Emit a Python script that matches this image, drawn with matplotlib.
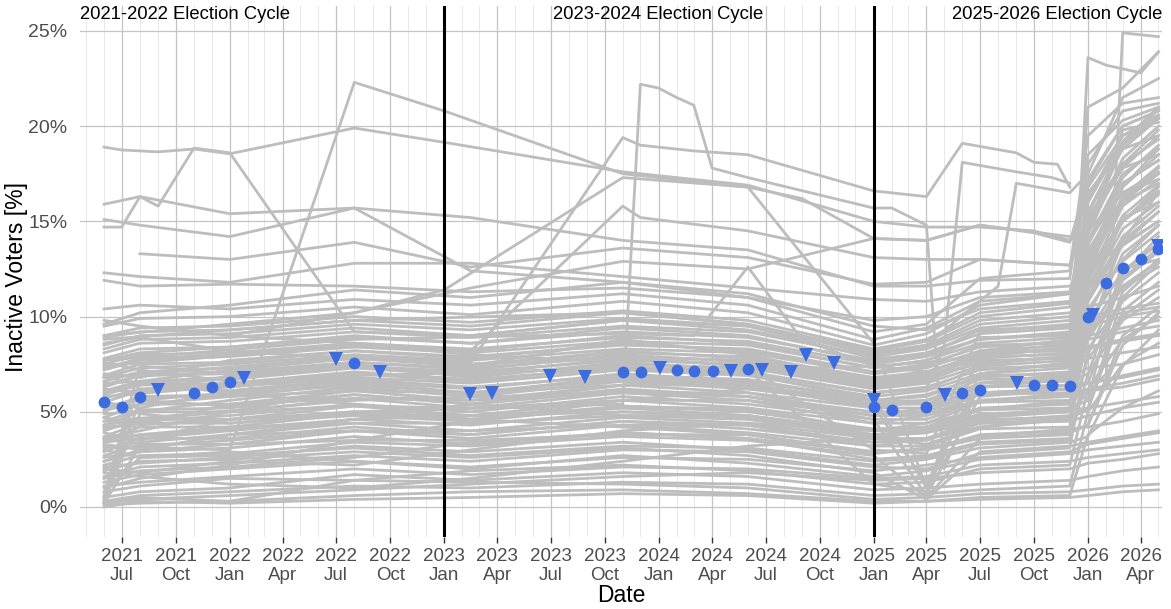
import numpy as np
import pandas as pd
import matplotlib
matplotlib.use('Agg')
import matplotlib.pyplot as plt
import matplotlib.dates as mdates

plt.rcParams['font.family'] = ['Liberation Sans', 'DejaVu Sans']
nan = np.nan

# statewide points (blue), shape o = circle, v = triangle
avg_dates = ['2021-06-01', '2021-07-01', '2021-08-01', '2021-09-01', '2021-11-01', '2021-12-01',
             '2022-01-01', '2022-01-26', '2022-06-30', '2022-08-01', '2022-09-13',
             '2023-02-14', '2023-03-24', '2023-06-30', '2023-08-28', '2023-11-02', '2023-12-02',
             '2024-01-03', '2024-02-01', '2024-03-01', '2024-04-02', '2024-05-03', '2024-06-02',
             '2024-06-25', '2024-08-13', '2024-09-08', '2024-10-25',
             '2025-01-01', '2025-01-01', '2025-02-01', '2025-04-01', '2025-05-02', '2025-06-01',
             '2025-07-01', '2025-09-03', '2025-10-01', '2025-11-01', '2025-12-01',
             '2026-01-01', '2026-01-09', '2026-02-01', '2026-03-01', '2026-04-01', '2026-05-01',
             '2026-05-01']
avg_pct = [5.5, 5.25, 5.75, 6.15, 6.0, 6.28,
           6.55, 6.8, 7.75, 7.55, 7.1,
           5.95, 5.98, 6.9, 6.85, 7.1, 7.08,
           7.3, 7.2, 7.15, 7.12, 7.15, 7.25,
           7.2, 7.1, 8.0, 7.55,
           5.6, 5.27, 5.1, 5.25, 5.88, 6.0,
           6.13, 6.5, 6.4, 6.4, 6.33,
           10.0, 10.1, 11.75, 12.55, 13.0, 13.55,
           13.7]
avg_shape = ['o', 'o', 'o', 'v', 'o', 'o',
             'o', 'v', 'v', 'o', 'v',
             'v', 'v', 'v', 'v', 'o', 'o',
             'v', 'o', 'o', 'o', 'v', 'o',
             'v', 'v', 'v', 'v',
             'v', 'o', 'o', 'o', 'v', 'o',
             'o', 'v', 'o', 'o', 'o',
             'o', 'v', 'o', 'o', 'o', 'o',
             'v']

# county lines sampled on a common set of dates
county_dates = ['2021-06-01', '2021-08-01', '2022-01-01', '2022-08-01', '2023-02-15', '2023-11-01',
                '2024-06-01', '2025-01-01', '2025-04-01', '2025-07-01', '2025-12-01', '2026-01-01',
                '2026-03-01', '2026-05-01']
county_pct = [
    [0.1, 0.2, 0.3, 1.4, 1.3, 1.2, 1.0, 0.4, 0.5, 0.7, 0.8, 0.9, 1.1, 1.2],
    [0.2, 0.5, 0.3, 0.6, 0.8, 0.9, 0.7, 0.3, 0.3, 0.5, 0.6, 3.8, 5.2, 6.1],
    [0.3, 4.9, 4.4, 4.8, 4.5, 5.3, 5.1, 4.0, 4.2, 5.1, 5.5, 9.6, 12.4, 13.8],
    [0.5, 0.8, 1.0, 1.7, 1.4, 1.8, 1.6, 0.9, 1.0, 1.2, 1.4, 1.6, 1.9, 2.1],
    [0.8, 1.1, 1.5, 1.4, 1.9, 2.2, 1.9, 1.2, 1.3, 2.0, 2.2, 6.2, 8.8, 10.0],
    [0.4, 6.6, 6.1, 6.7, 5.9, 6.9, 6.5, 5.3, 5.6, 6.3, 6.7, 11.8, 15.3, 16.9],
    [1.3, 1.7, 2.0, 2.4, 2.0, 2.7, 2.3, 1.6, 1.9, 2.5, 2.8, 3.0, 3.2, 3.4],
    [1.6, 2.1, 2.3, 2.7, 2.4, 3.0, 2.9, 2.1, 2.0, 2.8, 3.1, 8.3, 10.8, 12.3],
    [2.1, 2.3, 2.6, 3.2, 2.9, 3.4, 3.0, 2.2, 2.5, 3.1, 3.4, 3.7, 7.4, 9.3],
    [2.2, 2.7, 2.8, 3.4, 3.2, 3.7, 3.5, 2.7, 0.5, 3.6, 3.8, 10.4, 12.9, 14.4],
    [0.6, 7.4, 7.0, 7.5, 6.8, 7.6, 7.2, 1.2, 0.8, 7.0, 7.6, 13.0, 16.0, 17.5],
    [2.6, 2.9, 3.3, 3.5, 3.5, 3.8, 3.8, 2.8, 3.1, 3.7, 4.1, 4.2, 4.5, 4.9],
    [2.7, 3.3, 3.3, 4.0, 3.6, 4.3, 3.9, 3.2, 3.2, 4.1, 4.2, 11.3, 14.6, 16.0],
    [9.8, 9.5, 9.0, 8.6, 8.0, 7.6, 7.0, 5.6, 5.4, 6.0, 6.2, 6.5, 6.9, 7.3],
    [3.1, 3.4, 3.8, 4.0, 4.0, 4.3, 4.3, 3.2, 3.6, 4.2, 4.7, 5.1, 10.3, 11.8],
    [3.3, 3.0, 3.8, 4.4, 4.0, 4.7, 4.4, 3.6, 3.6, 4.6, 4.7, 7.8, 10.0, 11.4],
    [1.0, 1.5, 2.2, 3.5, 4.5, 5.6, 6.2, 5.8, 1.0, 8.0, 8.6, 14.8, 17.8, 19.5],
    [3.5, 3.8, 4.2, 4.4, 4.4, 4.8, 4.8, 3.6, 4.0, 4.7, 5.1, 5.2, 5.5, 5.8],
    [3.5, 4.2, 4.2, 4.9, 4.6, 5.2, 4.8, 4.0, 4.0, 5.1, 5.2, 12.6, 16.3, 17.9],
    [3.9, 3.5, 4.6, 4.9, 4.8, 5.2, 5.2, 4.0, 4.4, 5.1, 5.6, 8.8, 11.6, 12.9],
    [8.6, 8.9, 8.2, 7.8, 7.5, 7.9, 7.4, 3.0, 2.8, 9.2, 9.6, 10.0, 10.4, 10.7],
    [4.0, 4.6, 4.6, 5.3, 4.8, 5.6, 5.2, 4.4, 4.4, 5.5, 5.6, 6.1, 6.3, 6.7],
    [4.3, 4.6, 5.0, 5.3, 5.2, 5.6, 5.6, 4.4, 4.8, 5.5, 6.0, 13.3, 16.8, 18.8],
    [0.2, 0.4, 0.6, 0.9, 1.2, 1.6, 1.8, 1.4, 1.5, 1.8, 2.0, 2.3, 2.5, 2.8],
    [4.3, 5.0, 5.0, 5.7, 5.2, 6.0, 5.6, 4.8, 4.8, 5.9, 6.0, 9.8, 12.3, 13.9],
    [4.7, 4.3, 5.4, 5.7, 5.6, 6.0, 6.0, 4.8, 5.2, 5.9, 6.4, 6.5, 11.3, 13.0],
    [4.7, 5.4, 5.4, 6.1, 5.6, 6.4, 6.0, 5.2, 5.2, 6.3, 6.4, 14.3, 18.3, 20.0],
    [6.8, 6.5, 6.0, 5.4, 4.6, 4.2, 3.8, 2.9, 3.0, 3.6, 3.9, 4.3, 8.5, 10.2],
    [5.1, 5.4, 5.8, 6.1, 6.0, 6.4, 6.4, 5.2, 5.6, 6.3, 6.8, 9.3, 13.3, 14.8],
    [5.1, 5.8, 5.8, 6.5, 6.0, 6.8, 6.4, 5.5, 5.6, 6.7, 6.8, 7.3, 7.5, 8.0],
    [5.5, 5.2, 6.1, 6.7, 6.3, 6.9, 6.7, 5.6, 5.9, 6.8, 7.1, 11.0, 14.2, 15.8],
    [5.5, 6.1, 6.3, 6.8, 6.5, 7.2, 6.9, 5.8, 6.1, 7.0, 7.3, 16.0, 19.2, 21.0],
    [5.9, 6.4, 6.5, 7.1, 6.7, 7.3, 7.1, 6.0, 6.3, 7.2, 7.5, 12.0, 15.8, 17.2],
    [2.4, 3.0, 3.8, 4.6, 5.4, 6.4, 7.2, 7.4, 7.1, 7.9, 8.4, 8.8, 9.2, 9.5],
    [6.0, 6.5, 6.7, 7.3, 6.9, 7.5, 7.3, 6.2, 6.5, 7.4, 7.7, 8.0, 12.2, 14.2],
    [6.2, 6.0, 6.9, 7.4, 7.1, 7.7, 7.5, 6.4, 6.7, 7.6, 7.9, 13.0, 16.8, 18.5],
    [6.4, 6.9, 7.1, 7.6, 7.3, 7.9, 7.7, 6.6, 6.9, 7.8, 8.1, 8.4, 8.8, 9.1],
    [6.6, 7.1, 7.3, 7.8, 7.5, 8.1, 7.9, 6.8, 7.1, 8.0, 8.3, 10.8, 13.8, 15.5],
    [6.8, 7.3, 7.5, 8.0, 7.7, 8.3, 8.1, 7.0, 7.3, 8.2, 8.5, 15.0, 18.0, 19.8],
    [7.0, 6.8, 7.7, 8.2, 7.9, 8.5, 8.3, 7.1, 7.5, 8.4, 8.7, 9.0, 14.0, 16.5],
    [7.2, 7.7, 7.9, 8.4, 8.1, 8.7, 8.5, 7.3, 7.7, 8.6, 8.9, 12.5, 15.0, 16.8],
    [7.5, 8.0, 8.1, 8.6, 8.3, 8.9, 8.7, 7.5, 7.9, 8.8, 9.1, 17.0, 20.0, 20.8],
    [7.8, 8.3, 8.4, 8.9, 8.6, 9.2, 8.9, 7.7, 8.1, 9.1, 9.4, 9.8, 10.2, 10.5],
    [8.1, 8.6, 8.7, 9.2, 8.9, 9.5, 9.2, 7.9, 8.3, 9.4, 9.8, 14.0, 17.5, 18.8],
    [8.5, 9.0, 9.1, 9.6, 9.3, 9.9, 9.5, 8.1, 8.5, 9.8, 10.2, 10.8, 15.2, 16.0],
    [9.0, 9.4, 9.5, 10.0, 9.7, 10.3, 9.8, 8.3, 8.8, 10.2, 10.7, 15.5, 19.0, 20.5],
    [9.5, 9.9, 10.0, 10.5, 10.1, 10.8, 10.2, 8.5, 9.1, 10.6, 11.2, 11.8, 12.5, 13.0],
    [1.8, 1.6, 1.2, 1.0, 1.5, 2.4, 3.2, 3.6, 3.3, 4.2, 4.6, 9.0, 11.5, 12.6],
    [3.0, 2.6, 2.9, 2.4, 2.1, 2.6, 2.5, 1.9, 2.2, 2.6, 2.9, 3.3, 3.6, 3.9],
    [0.0, 0.3, 0.2, 0.4, 0.5, 0.7, 0.6, 0.2, 0.3, 0.4, 0.5, 0.6, 0.8, 0.9],
    [15.9, 16.3, 15.4, 15.7, 15.2, 14.0, 13.5, 11.6, 11.6, 11.9, 12.0, 18.5, 20.3, 21.0],
    [15.1, 14.8, 14.2, 15.7, 12.4, 11.8, 11.2, 9.5, 9.3, 10.4, 10.8, 14.0, 16.5, 17.2],
    [nan, 13.3, 13.0, 13.9, 12.6, 13.6, 13.1, 11.7, 11.8, 13.0, 12.7, 16.8, 19.5, 20.4],
    [12.3, 12.1, 11.8, 12.8, 12.8, 12.1, 11.5, 10.9, 10.8, 11.3, 11.6, 12.2, 17.0, 18.2],
    [11.9, 11.6, 11.7, 11.6, 11.3, 11.5, 11.0, 9.8, 10.0, 11.0, 11.3, 15.2, 18.0, 19.3],
    [10.4, 10.6, 10.4, 10.9, 10.6, 11.2, 10.6, 8.8, 9.4, 10.8, 11.2, 13.5, 16.2, 17.5],
    [9.6, 10.2, 10.6, 11.4, 11.0, 11.8, 11.0, 9.2, 9.6, 12.0, 12.4, 19.5, 21.2, 21.5],
    [nan, nan, 9.0, 10.2, 11.5, 12.9, 12.5, 14.1, 14.0, 14.8, 14.2, 14.5, 19.8, 20.2],
    [0.2, 3.2, 3.5, 4.0, 3.8, 4.5, 4.3, 3.4, 3.6, 4.4, 4.6, 10.0, 13.8, 15.0],
    [0.5, 5.6, 5.3, 5.9, 5.4, 6.1, 5.8, 4.6, 0.6, 5.8, 6.2, 6.5, 6.8, 7.2],
    [0.8, 2.6, 2.7, 3.1, 2.7, 3.2, 3.1, 2.4, 2.6, 3.3, 3.5, 7.0, 9.8, 11.0],
    [1.1, 1.3, 1.6, 2.0, 1.7, 2.1, 2.0, 1.5, 1.6, 2.2, 2.4, 2.6, 2.8, 3.0],
    [1.5, 1.9, 2.1, 2.6, 3.4, 3.9, 3.6, 2.5, 2.7, 3.4, 3.6, 12.0, 15.0, 16.4],
    [2.4, 2.9, 3.1, 3.7, 3.3, 3.9, 3.6, 2.9, 3.0, 3.8, 4.0, 4.3, 9.0, 10.5],
    [2.9, 3.6, 3.6, 4.2, 3.8, 4.5, 4.1, 3.4, 3.5, 4.4, 4.5, 4.8, 5.2, 5.5],
    [3.4, 3.6, 4.0, 4.6, 4.3, 5.0, 4.7, 3.8, 3.9, 4.9, 5.0, 9.2, 11.9, 13.4],
    [3.7, 4.4, 4.4, 5.0, 4.6, 5.3, 5.0, 4.1, 4.2, 5.2, 5.4, 13.8, 17.3, 19.0],
    [4.1, 4.5, 4.8, 5.4, 5.0, 5.8, 5.4, 4.6, 4.6, 5.6, 5.8, 6.2, 6.5, 6.9],
    [4.5, 5.1, 5.2, 5.9, 5.4, 6.2, 5.8, 5.0, 5.0, 6.0, 6.2, 10.8, 14.0, 15.5],
    [4.9, 5.0, 5.6, 6.3, 5.8, 6.6, 6.2, 5.4, 5.4, 6.5, 6.6, 7.0, 12.0, 13.6],
    [5.3, 5.6, 6.0, 6.6, 6.2, 7.0, 6.6, 5.6, 5.8, 6.9, 7.0, 15.4, 18.8, 20.4],
    [5.7, 6.2, 6.4, 7.0, 6.6, 7.4, 7.0, 6.0, 6.2, 7.3, 7.4, 7.8, 8.1, 8.4],
    [6.1, 6.6, 6.8, 7.4, 7.0, 7.8, 7.4, 6.3, 6.6, 7.7, 7.8, 11.5, 15.0, 16.6],
    [6.5, 6.6, 7.2, 7.8, 7.4, 8.2, 7.8, 6.7, 7.0, 8.1, 8.2, 13.8, 17.0, 18.2],
    [6.9, 7.5, 7.6, 8.2, 7.8, 8.6, 8.2, 7.0, 7.4, 8.5, 8.6, 9.0, 9.4, 9.8],
    [7.3, 7.8, 8.0, 8.6, 8.2, 9.0, 8.6, 7.3, 7.7, 8.9, 9.0, 16.2, 19.5, 20.6],
    [7.7, 8.1, 8.4, 9.0, 8.6, 9.4, 9.0, 7.6, 8.0, 9.3, 9.5, 12.8, 16.0, 17.0],
    [8.3, 8.8, 8.9, 9.4, 9.0, 9.8, 9.3, 7.9, 8.4, 9.6, 10.0, 10.5, 11.0, 11.6],
    [8.9, 9.2, 9.3, 9.8, 9.5, 10.2, 9.6, 8.2, 8.7, 10.0, 10.5, 18.0, 20.8, 21.2],
    [3.6, 4.0, 5.0, 6.2, 7.4, 8.8, 8.0, 6.6, 6.9, 7.5, 7.9, 14.5, 16.5, 17.6],
    [7.6, 7.2, 6.6, 6.2, 5.4, 4.8, 4.6, 3.7, 3.9, 4.5, 4.8, 5.2, 11.0, 12.8],
    [0.3, 0.6, 0.8, 1.1, 1.0, 1.3, 1.2, 0.6, 0.7, 0.9, 1.1, 5.0, 7.5, 8.6],
    [1.9, 2.4, 2.5, 2.9, 2.6, 3.1, 2.7, 1.8, 0.4, 2.9, 3.2, 3.4, 3.7, 4.0],
    [5.0, 5.8, 5.9, 6.4, 6.0, 6.7, 6.3, 5.3, 1.2, 6.5, 6.9, 12.5, 16.0, 17.8],
    [2.0, 1.8, 2.4, 2.2, 3.0, 4.0, 4.4, 4.0, 4.1, 4.8, 5.2, 5.6, 13.0, 14.8],
    [6.3, 6.9, 7.0, 7.6, 7.2, 8.0, 7.6, 6.5, 6.8, 7.9, 8.0, 8.3, 8.7, 9.0],
]

# counties with their own sample dates (the outliers)
peak_a_dates = ['2021-06-01', '2021-07-01', '2021-09-01', '2021-11-01', '2022-01-01', '2022-08-01',
                '2023-01-01', '2023-11-01', '2024-06-01', '2025-01-01', '2025-04-01', '2025-07-01',
                '2025-10-01', '2025-12-01', '2026-01-01', '2026-03-01', '2026-05-01']
peak_a_pct = [18.9, 18.75, 18.65, 18.8, 18.55, 19.9, 19.15, 17.6, 16.9, 15.0, 14.7, 14.7,
              14.5, 14.0, 14.5, 19.0, 20.9]

peak_b_dates = ['2021-06-01', '2021-07-01', '2021-08-01', '2021-09-01', '2021-11-01', '2022-01-01',
                '2022-08-01', '2023-02-15', '2023-11-01', '2024-06-01', '2025-01-01', '2025-04-01',
                '2025-07-01', '2025-12-01', '2026-01-01', '2026-03-01', '2026-05-01']
peak_b_pct = [14.7, 14.7, 16.3, 15.8, 18.85, 18.6, 9.2, 9.0, 9.8, 9.5, 7.8, 8.0,
              8.8, 9.2, 9.5, 10.0, 10.3]

peak_c_dates = ['2021-06-01', '2022-01-01', '2022-08-01', '2023-01-01', '2023-11-01', '2024-06-01',
                '2025-01-01', '2025-04-01', '2025-07-01', '2025-12-01', '2026-01-01', '2026-03-01',
                '2026-05-01']
peak_c_pct = [3.2, 3.0, 22.3, 20.8, 17.5, 16.8, 8.6, 1.0, 8.2, 8.8, 21.0, 22.0, 23.9]

peak_d_dates = ['2021-06-01', '2022-08-01', '2023-11-01', '2023-12-01', '2024-01-01', '2024-02-01',
                '2024-03-01', '2024-04-01', '2024-06-01', '2025-01-01', '2025-02-01', '2025-04-01',
                '2025-05-01', '2025-07-01', '2025-12-01', '2026-01-01', '2026-03-01', '2026-05-01']
peak_d_pct = [4.2, 5.0, 5.4, 22.2, 22.0, 21.5, 21.1, 17.8, 17.3, 15.7, 15.7, 14.8,
              2.0, 6.5, 7.0, 16.5, 18.8, 19.5]

peak_e_dates = ['2021-06-01', '2022-08-01', '2023-02-15', '2023-11-01', '2023-12-01', '2024-03-01',
                '2024-06-01', '2025-01-01', '2025-04-01', '2025-06-01', '2025-09-01', '2025-10-01',
                '2025-11-10', '2025-12-01']
peak_e_pct = [6.8, 7.9, 7.6, 19.4, 19.0, 18.7, 18.5, 16.6, 16.3, 19.1, 18.6, 18.1,
              18.0, 16.8]

peak_f_dates = ['2021-06-01', '2022-08-01', '2023-01-01', '2023-11-01', '2024-06-01', '2024-09-01',
                '2025-01-01', '2025-04-01', '2025-07-01', '2025-10-01', '2025-12-01', '2026-01-01',
                '2026-03-01', '2026-05-01']
peak_f_pct = [9.0, 10.2, 11.4, 17.3, 16.8, 16.2, 14.1, 14.0, 14.8, 14.4, 13.9, 17.2,
              20.0, 20.8]

peak_g_dates = ['2021-06-01', '2022-08-01', '2023-02-15', '2023-11-01', '2023-12-01', '2024-06-01',
                '2025-01-01', '2025-04-01', '2025-07-01', '2025-12-01', '2026-01-01', '2026-03-01',
                '2026-05-01']
peak_g_pct = [7.4, 8.5, 8.2, 15.8, 15.2, 14.5, 13.1, 13.0, 13.0, 12.7, 15.0, 17.8, 18.5]

peak_h_dates = ['2021-06-01', '2022-08-01', '2023-11-01', '2024-06-01', '2025-01-01', '2025-04-01',
                '2025-05-01', '2025-06-01', '2025-09-01', '2025-11-01', '2025-12-01']
peak_h_pct = [5.8, 6.9, 7.3, 7.0, 6.0, 6.2, 8.4, 18.1, 17.6, 17.3, 17.0]

peak_i_dates = ['2021-06-01', '2022-08-01', '2023-11-01', '2024-06-01', '2025-01-01', '2025-04-01',
                '2025-07-01', '2025-12-01', '2026-01-01', '2026-02-01', '2026-04-01', '2026-05-01']
peak_i_pct = [4.5, 5.6, 6.0, 5.8, 4.8, 4.9, 5.6, 5.9, 23.6, 23.2, 22.8, 23.9]

peak_j_dates = ['2021-06-01', '2022-08-01', '2023-11-01', '2024-06-01', '2025-01-01', '2025-04-01',
                '2025-07-01', '2025-12-01', '2026-01-01', '2026-02-01', '2026-03-01', '2026-05-01']
peak_j_pct = [3.6, 4.6, 5.0, 4.8, 3.8, 4.0, 4.7, 5.0, 6.0, 7.0, 24.9, 24.7]

peak_k_dates = ['2021-06-01', '2022-08-01', '2023-11-01', '2024-06-01', '2025-01-01', '2025-04-01',
                '2025-08-01', '2025-09-01', '2025-12-01', '2026-01-01', '2026-03-01', '2026-05-01']
peak_k_pct = [8.8, 9.8, 10.2, 9.6, 8.0, 8.5, 11.6, 17.0, 16.5, 17.5, 21.5, 22.5]

peak_l_dates = ['2021-06-01', '2022-08-01', '2023-11-01', '2024-03-01', '2024-06-01', '2024-09-01',
                '2025-01-01', '2025-04-01', '2025-12-01', '2026-01-01', '2026-05-01']
peak_l_pct = [7.7, 8.8, 9.1, 9.0, 12.6, 8.8, 7.4, 7.6, 8.4, 12.5, 15.0]

peaks = [(peak_a_dates, peak_a_pct), (peak_b_dates, peak_b_pct), (peak_c_dates, peak_c_pct),
         (peak_d_dates, peak_d_pct), (peak_e_dates, peak_e_pct), (peak_f_dates, peak_f_pct),
         (peak_g_dates, peak_g_pct), (peak_h_dates, peak_h_pct), (peak_i_dates, peak_i_pct),
         (peak_j_dates, peak_j_pct), (peak_k_dates, peak_k_pct), (peak_l_dates, peak_l_pct)]

cycle_starts = ['2023-01-01', '2025-01-01']

GREY = '#bdbdbd'
BLUE = '#3d6be0'

fig = plt.figure(figsize=(11.71, 6.09), dpi=100)
ax = fig.add_axes([80 / 1171, 1 - 537 / 609, 1082 / 1171, 531 / 609])

x_county = pd.to_datetime(county_dates)
for row in county_pct:
    ax.plot(x_county, row, color=GREY, lw=2.0, zorder=2, solid_joinstyle='round')
for d, v in peaks:
    ax.plot(pd.to_datetime(d), v, color=GREY, lw=2.0, zorder=2, solid_joinstyle='round')

for d in cycle_starts:
    ax.axvline(pd.Timestamp(d), color='black', lw=2.2, zorder=3)

x_avg = pd.to_datetime(avg_dates)
shape = np.array(avg_shape)
pct = np.array(avg_pct)
ax.plot(x_avg[shape == 'o'], pct[shape == 'o'], 'o', color=BLUE, ms=8.5, mew=0, zorder=4)
ax.plot(x_avg[shape == 'v'], pct[shape == 'v'], 'v', color=BLUE, ms=10.5, mew=0, zorder=4)

# cycle labels
ax.text(0.0, 25.85, '2021-2022 Election Cycle', transform=ax.get_yaxis_transform(),
        ha='left', va='center', fontsize=13.3, zorder=5)
ax.text(pd.Timestamp('2024-01-01'), 25.85, '2023-2024 Election Cycle',
        ha='center', va='center', fontsize=13.3, zorder=5)
ax.text(1.0, 25.85, '2025-2026 Election Cycle', transform=ax.get_yaxis_transform(),
        ha='right', va='center', fontsize=13.3, zorder=5)

ax.set_xlim(pd.Timestamp('2021-04-21'), pd.Timestamp('2026-05-07'))
ax.set_ylim(-1.576, 26.31)

ax.xaxis.set_major_locator(mdates.MonthLocator(bymonth=[1, 4, 7, 10]))
ax.xaxis.set_minor_locator(mdates.MonthLocator())
ax.xaxis.set_major_formatter(mdates.DateFormatter('%Y\n%b'))
ax.set_yticks([0, 5, 10, 15, 20, 25])
ax.set_yticklabels(['0%', '5%', '10%', '15%', '20%', '25%'])

ax.grid(which='major', axis='both', color='#c4c4c4', lw=0.9, zorder=0)
ax.grid(which='minor', axis='x', color='#e8e8e8', lw=0.7, zorder=0)
ax.set_axisbelow(True)
for s in ax.spines.values():
    s.set_visible(False)

ax.tick_params(axis='x', which='major', length=4, width=1, color='#333333',
               labelcolor='#4d4d4d', labelsize=13.5, pad=4)
ax.tick_params(axis='x', which='minor', length=0)
ax.tick_params(axis='y', length=0, labelcolor='#4d4d4d', labelsize=14, pad=9)
for lab in ax.get_xticklabels():
    lab.set_linespacing(1.15)

ax.set_xlabel('Date', fontsize=16.5)
ax.set_ylabel('Inactive Voters [%]', fontsize=16.5)
ax.xaxis.set_label_coords(0.5, -0.088)
ax.yaxis.set_label_coords(-0.048, 0.49)

fig.savefig('out.png', dpi=100)
